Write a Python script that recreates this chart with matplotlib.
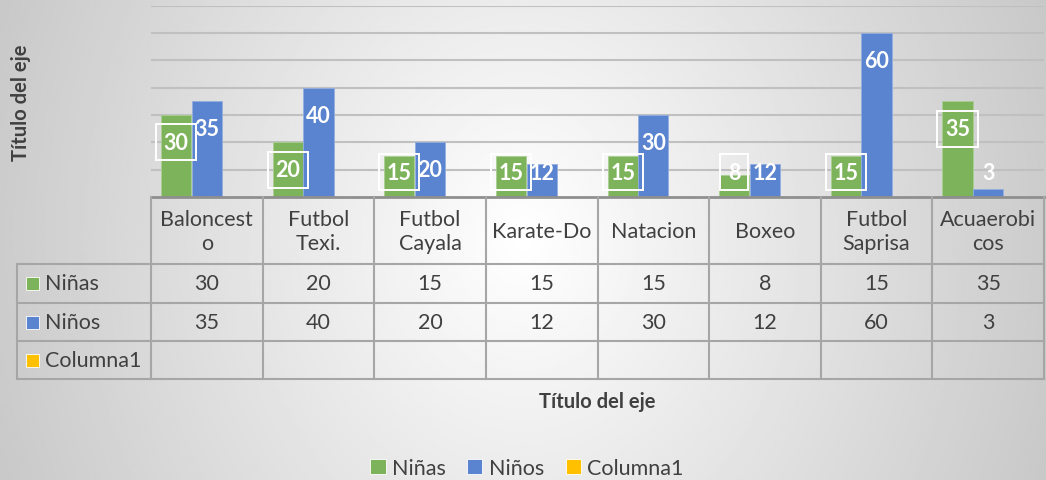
import numpy as np
import matplotlib.pyplot as plt
from matplotlib.patches import Patch, Rectangle

# data
categories = ['Baloncesto', 'Futbol Texi.', 'Futbol Cayala', 'Karate-Do',
              'Natacion', 'Boxeo', 'Futbol Saprisa', 'Acuaerobicos']
header_labels = ['Baloncest\no', 'Futbol\nTexi.', 'Futbol\nCayala', 'Karate-Do',
                 'Natacion', 'Boxeo', 'Futbol\nSaprisa', 'Acuaerobi\ncos']
ninas = [30, 20, 15, 15, 15, 8, 15, 35]
ninos = [35, 40, 20, 12, 30, 12, 60, 3]
columna1 = [np.nan] * 8  # empty series
series_names = ['Niñas', 'Niños', 'Columna1']
colors = ['#7db35b', '#5a84cf', '#ffc000']

W, H = 1046, 481
FONT = 'Lato'
TXT = '#404040'
plt.rcParams['font.family'] = [FONT, 'DejaVu Sans']

fig = plt.figure(figsize=(W / 100, H / 100), dpi=100)

# gradient background
bg = fig.add_axes([0, 0, 1, 1], zorder=-5)
gx, gy = np.meshgrid(np.linspace(0, 1, 400), np.linspace(0, 1, 200))
d = np.sqrt(((gx - 0.5) / 0.5) ** 2 + 0.15 * ((gy - 0.5) / 0.5) ** 2)
shade = 1 - 0.2 * np.clip(d, 0, 1.2)
bg.imshow(shade, cmap='gray', vmin=0, vmax=1, aspect='auto', extent=[0, 1, 0, 1])
bg.axis('off')

# plot area
left, right, base, top = 151, 1044, 198, 6.7
ax = fig.add_axes([left / W, 1 - base / H, (right - left) / W, (base - top) / H])
ax.patch.set_alpha(0)
x = np.arange(len(categories))
bw, off = 0.27, 0.275
ax.bar(x - off, ninas, bw, color=colors[0], edgecolor='#a9cf92', lw=0.6, zorder=3)
ax.bar(x, ninos, bw, color=colors[1], edgecolor='#93aee0', lw=0.6, zorder=3)
ax.bar(x + off, columna1, bw, color=colors[2], zorder=3)
ax.set_xlim(-0.5, len(categories) - 0.5)
ax.set_ylim(0, 70)
ax.set_yticks(range(10, 71, 10))
ax.yaxis.grid(True, color='#c0c0c0', lw=1.5)
ax.set_axisbelow(True)
ax.tick_params(length=0, labelleft=False, labelbottom=False)
for s in ax.spines.values():
    s.set_visible(False)

for i in range(len(categories)):
    ax.text(x[i] - off, max(ninas[i] - 10, 9), str(ninas[i]), ha='center', va='center',
            color='white', fontsize=15.5, fontweight='bold', zorder=5,
            bbox=dict(boxstyle='square,pad=0.35', fc='none', ec='white', lw=1.4))
    ax.text(x[i], max(ninos[i] - 10, 9), str(ninos[i]), ha='center', va='center',
            color='white', fontsize=15.5, fontweight='bold', zorder=4)

# data table drawn in pixel coordinates
tab = fig.add_axes([0, 0, 1, 1], zorder=2)
tab.set_xlim(0, W)
tab.set_ylim(H, 0)
tab.axis('off')
tab.patch.set_alpha(0)
col_edges = np.linspace(left, right, len(categories) + 1)
row_edges = [198, 265, 304, 342, 380]
lab_left = 17
lc = '#a6a6a6'
tab.plot([left, right], [row_edges[0]] * 2, color='#8f8f8f', lw=2)
for ry in row_edges[1:]:
    tab.plot([lab_left, right], [ry, ry], color=lc, lw=1.5)
for cx in col_edges:
    tab.plot([cx, cx], [row_edges[0], row_edges[-1]], color=lc, lw=1.5)
tab.plot([lab_left, lab_left], [row_edges[1], row_edges[-1]], color=lc, lw=1.5)

centers = (col_edges[:-1] + col_edges[1:]) / 2
for cx, lab in zip(centers, header_labels):
    tab.text(cx, (row_edges[0] + row_edges[1]) / 2 + 1, lab, ha='center', va='center',
             fontsize=15.5, color=TXT, linespacing=1.25)
rows = [ninas, ninos, columna1]
for r, (name, vals, c) in enumerate(zip(series_names, rows, colors)):
    yc = (row_edges[r + 1] + row_edges[r + 2]) / 2
    tab.add_patch(Rectangle((26, yc - 6.5), 13, 13, fc=c, ec='white', lw=0.6))
    tab.text(45, yc, name, ha='left', va='center', fontsize=15.5, color=TXT)
    for cx, v in zip(centers, vals):
        if not np.isnan(v):
            tab.text(cx, yc, f'{v:g}', ha='center', va='center', fontsize=15.5, color=TXT)

# axis titles
fig.text(21 / W, 1 - 103 / H, 'Título del eje', rotation=90, ha='center', va='center',
         fontsize=14.5, fontweight='bold', color=TXT)
fig.text((left + right) / 2 / W, 1 - 402 / H, 'Título del eje', ha='center', va='center',
         fontsize=14.5, fontweight='bold', color=TXT)

handles = [Patch(fc=c, ec='white', lw=0.6) for c in colors]
fig.legend(handles, series_names, ncol=3, loc='center', bbox_to_anchor=(527 / W, 1 - 469 / H),
           frameon=False, fontsize=15.5, handlelength=0.7, handleheight=0.7,
           handletextpad=0.3, columnspacing=1.0, labelcolor=TXT)

fig.savefig('out.png', dpi=100)
